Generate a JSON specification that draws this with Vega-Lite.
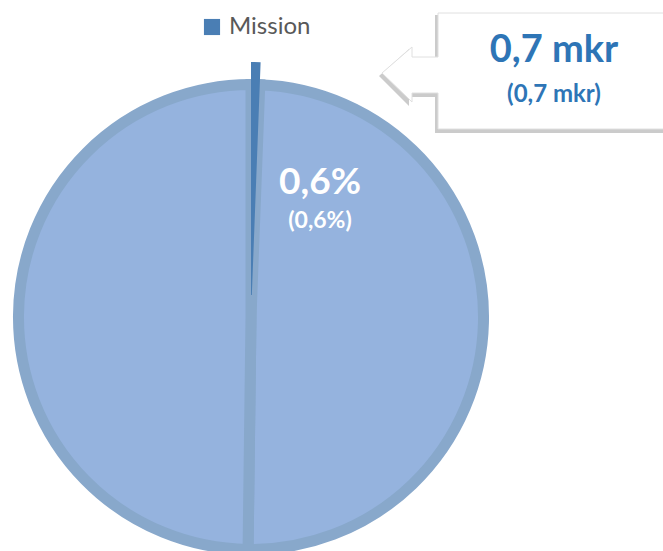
{
  "$schema": "https://vega.github.io/schema/vega-lite/v6.json",
  "autosize": {"type": "none"},
  "width": 476,
  "height": 476,
  "padding": {"left": 13, "top": 79, "right": 174, "bottom": 0},
  "background": "white",
  "config": {"view": {"stroke": null}, "font": "Lato"},
  "data": {
    "values": [
      {"category": "Mission", "value": 0.6, "nr": 1, "pct": "0,6%", "pct_prev": "(0,6%)", "amount": "0,7 mkr", "amount_prev": "(0,7 mkr)"},
      {"category": "Övrigt A", "value": 49.6, "nr": 2, "pct": "", "pct_prev": "", "amount": "", "amount_prev": ""},
      {"category": "Övrigt B", "value": 49.8, "nr": 3, "pct": "", "pct_prev": "", "amount": "", "amount_prev": ""}
    ]
  },
  "layer": [
    {
      "mark": {"type": "arc", "outerRadius": 232.5, "stroke": "#88A8CB", "strokeWidth": 11},
      "encoding": {
        "theta": {"field": "value", "type": "quantitative", "stack": true},
        "order": {"field": "nr", "type": "quantitative"},
        "color": {
          "field": "category",
          "type": "nominal",
          "scale": {"domain": ["Mission", "Övrigt A", "Övrigt B"], "range": ["#4A7EB4", "#95B3DE", "#95B3DE"]},
          "legend": {
            "values": ["Mission"],
            "title": null,
            "orient": "none",
            "legendX": 187,
            "legendY": -64,
            "padding": 0,
            "symbolType": "square",
            "symbolSize": 260,
            "symbolStrokeWidth": 0,
            "labelFontSize": 24,
            "labelFont": "Lato",
            "labelColor": "#595959",
            "labelOffset": 5
          }
        }
      }
    },
    {
      "mark": {"type": "arc", "outerRadius": 255, "innerRadius": 22, "strokeWidth": 0},
      "encoding": {
        "theta": {"field": "value", "type": "quantitative", "stack": true},
        "order": {"field": "nr", "type": "quantitative"},
        "fill": {"condition": {"test": "datum.category === 'Mission'", "value": "#4A7EB4"}, "value": "transparent"}
      }
    },
    {
      "transform": [{"filter": "datum.category === 'Mission'"}],
      "mark": {"type": "text", "font": "Lato", "fontWeight": "bold", "fontSize": 37, "color": "white", "dx": 69, "dy": -134, "align": "center", "baseline": "middle"},
      "encoding": {"text": {"field": "pct", "type": "nominal"}}
    },
    {
      "transform": [{"filter": "datum.category === 'Mission'"}],
      "mark": {"type": "text", "font": "Lato", "fontWeight": "bold", "fontSize": 23, "color": "white", "dx": 69, "dy": -96, "align": "center", "baseline": "middle"},
      "encoding": {"text": {"field": "pct_prev", "type": "nominal"}}
    },
    {
      "transform": [{"filter": "datum.category === 'Mission'"}],
      "mark": {"type": "point", "filled": true, "size": 4, "color": "#B5B5B5", "opacity": 0.7,
        "shape": "M 184 -302 L 420 -302 L 420 -184 L 184 -184 L 184 -220 L 158 -220 L 158 -211 L 128 -241 L 158 -268 L 158 -257 L 184 -257 Z"},
      "encoding": {}
    },
    {
      "transform": [{"filter": "datum.category === 'Mission'"}],
      "mark": {"type": "point", "filled": true, "size": 4, "color": "white", "opacity": 1, "stroke": "#E0E0E0", "strokeWidth": 1,
        "shape": "M 187 -304 L 420 -304 L 420 -188 L 187 -188 L 187 -224 L 161 -224 L 161 -215 L 131 -244 L 161 -270 L 161 -260 L 187 -260 Z"},
      "encoding": {}
    },
    {
      "transform": [{"filter": "datum.category === 'Mission'"}],
      "mark": {"type": "text", "font": "Lato", "fontWeight": "bold", "fontSize": 38, "color": "#2E75B6", "dx": 303, "dy": -266, "align": "center", "baseline": "middle"},
      "encoding": {"text": {"field": "amount", "type": "nominal"}}
    },
    {
      "transform": [{"filter": "datum.category === 'Mission'"}],
      "mark": {"type": "text", "font": "Lato", "fontWeight": "bold", "fontSize": 24, "color": "#2E75B6", "dx": 303, "dy": -222, "align": "center", "baseline": "middle"},
      "encoding": {"text": {"field": "amount_prev", "type": "nominal"}}
    }
  ]
}
